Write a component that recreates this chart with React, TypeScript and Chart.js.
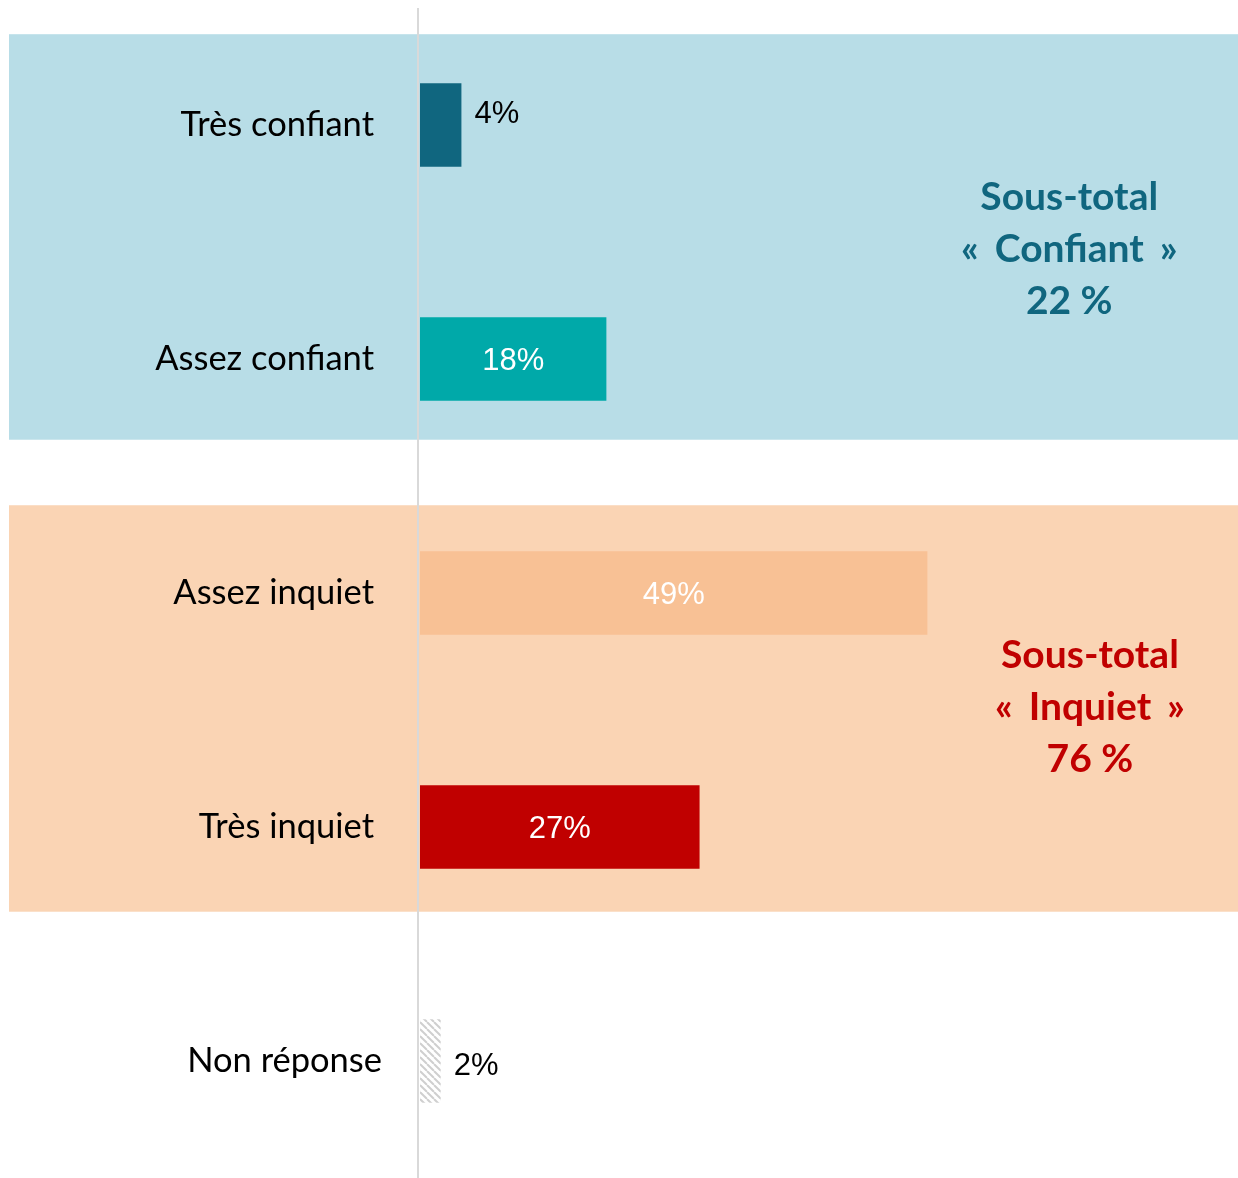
import React, { useEffect, useRef } from "react";
import { Chart, registerables } from "chart.js";
Chart.register(...registerables);

const categories = ["Très confiant", "Assez confiant", "Assez inquiet", "Très inquiet", "Non réponse"];
const values = [4, 18, 49, 27, 2];
const valueLabels = ["4%", "18%", "49%", "27%", "2%"];
const barColors = ["#10667F", "#00A9A9", "#F8C195", "#C00000", "hatch"];
const labelInside = [false, true, true, true, false];
const subtotalConfiant = ["Sous-total", "« \u2006Confiant\u2006 »", "22 %"];
const subtotalInquiet = ["Sous-total", "« \u2006Inquiet\u2006 »", "76 %"];

function makeHatch(): CanvasPattern | string {
  const c = document.createElement("canvas");
  c.width = 7;
  c.height = 7;
  const g = c.getContext("2d");
  if (!g) return "#ddd";
  g.fillStyle = "#ffffff";
  g.fillRect(0, 0, 7, 7);
  g.strokeStyle = "#cfcfcf";
  g.lineWidth = 2;
  for (let o = -7; o <= 7; o += 7) {
    g.beginPath();
    g.moveTo(o, 0);
    g.lineTo(o + 7, 7);
    g.stroke();
  }
  return g.createPattern(c, "repeat") || "#ddd";
}

export default function App() {
  const ref = useRef<HTMLCanvasElement | null>(null);
  useEffect(() => {
    if (!ref.current) return;
    const hatch = makeHatch();
    const colors = barColors.map((c) => (c === "hatch" ? hatch : c));

    const overlay = {
      id: "overlay",
      beforeDatasetsDraw(chart: any) {
        const { ctx, chartArea } = chart;
        const y = chart.scales.y;
        ctx.save();
        ctx.fillStyle = "#B8DDE7";
        const b1 = y.getPixelForValue(-0.388);
        const b2 = y.getPixelForValue(1.345);
        ctx.fillRect(9, b1, 1238 - 9, b2 - b1);
        ctx.fillStyle = "#FAD4B4";
        const o1 = y.getPixelForValue(1.625);
        const o2 = y.getPixelForValue(3.362);
        ctx.fillRect(9, o1, 1238 - 9, o2 - o1);
        ctx.strokeStyle = "#D9D9D9";
        ctx.lineWidth = 2;
        ctx.beginPath();
        ctx.moveTo(chartArea.left - 2, chartArea.top);
        ctx.lineTo(chartArea.left - 2, 1178);
        ctx.stroke();
        ctx.restore();
      },
      afterDatasetsDraw(chart: any) {
        const { ctx } = chart;
        const x = chart.scales.x;
        const y = chart.scales.y;
        const meta = chart.getDatasetMeta(0);
        ctx.save();
        // category labels
        ctx.font = "34.5px Lato, 'Open Sans', sans-serif";
        ctx.fillStyle = "#000000";
        ctx.textAlign = "right";
        ctx.textBaseline = "middle";
        categories.forEach((c, i) => {
          const right = i === 4 ? 382 : 374;
          ctx.fillText(c, right, y.getPixelForValue(i));
        });
        // value labels
        ctx.font = "31px 'Liberation Sans', Arial, sans-serif";
        meta.data.forEach((bar: any, i: number) => {
          if (labelInside[i]) {
            ctx.fillStyle = "#ffffff";
            ctx.textAlign = "center";
            ctx.fillText(valueLabels[i], (bar.x + bar.base) / 2, bar.y + 2);
          } else {
            ctx.fillStyle = "#000000";
            ctx.textAlign = "left";
            const dy = i === 0 ? -11 : 5;
            ctx.fillText(valueLabels[i], bar.x + 13, bar.y + dy);
          }
        });
        // subtotals
        ctx.font = "bold 39px Lato, 'Open Sans', sans-serif";
        ctx.textAlign = "center";
        ctx.fillStyle = "#10667F";
        const cx1 = x.getPixelForValue(62.7);
        const cy1 = y.getPixelForValue(0.53);
        subtotalConfiant.forEach((t, k) => ctx.fillText(t, cx1, cy1 + (k - 1) * 52));
        ctx.fillStyle = "#C00000";
        const cx2 = x.getPixelForValue(64.7);
        const cy2 = y.getPixelForValue(2.49);
        subtotalInquiet.forEach((t, k) => ctx.fillText(t, cx2, cy2 + (k - 1) * 52));
        ctx.restore();
      },
    };

    const chart = new Chart(ref.current, {
      type: "bar",
      data: {
        labels: categories,
        datasets: [
          {
            data: values,
            backgroundColor: colors as any,
            borderWidth: 0,
            barPercentage: 0.356,
            categoryPercentage: 1,
          },
        ],
      },
      options: {
        indexAxis: "y",
        animation: false,
        responsive: false,
        maintainAspectRatio: false,
        layout: { padding: { left: 420, top: 8, right: 0, bottom: -2 } },
        plugins: { legend: { display: false }, tooltip: { enabled: false } },
        scales: {
          x: { min: 0, max: 79, display: false, grid: { display: false } },
          y: { display: false, grid: { display: false } },
        },
      },
      plugins: [overlay],
    });
    return () => chart.destroy();
  }, []);

  return (
    <div style={{ position: "absolute", left: 0, top: 0, width: 1238, height: 1178, background: "#fff" }}>
      <canvas ref={ref} width={1238} height={1178} style={{ display: "block" }} />
    </div>
  );
}
